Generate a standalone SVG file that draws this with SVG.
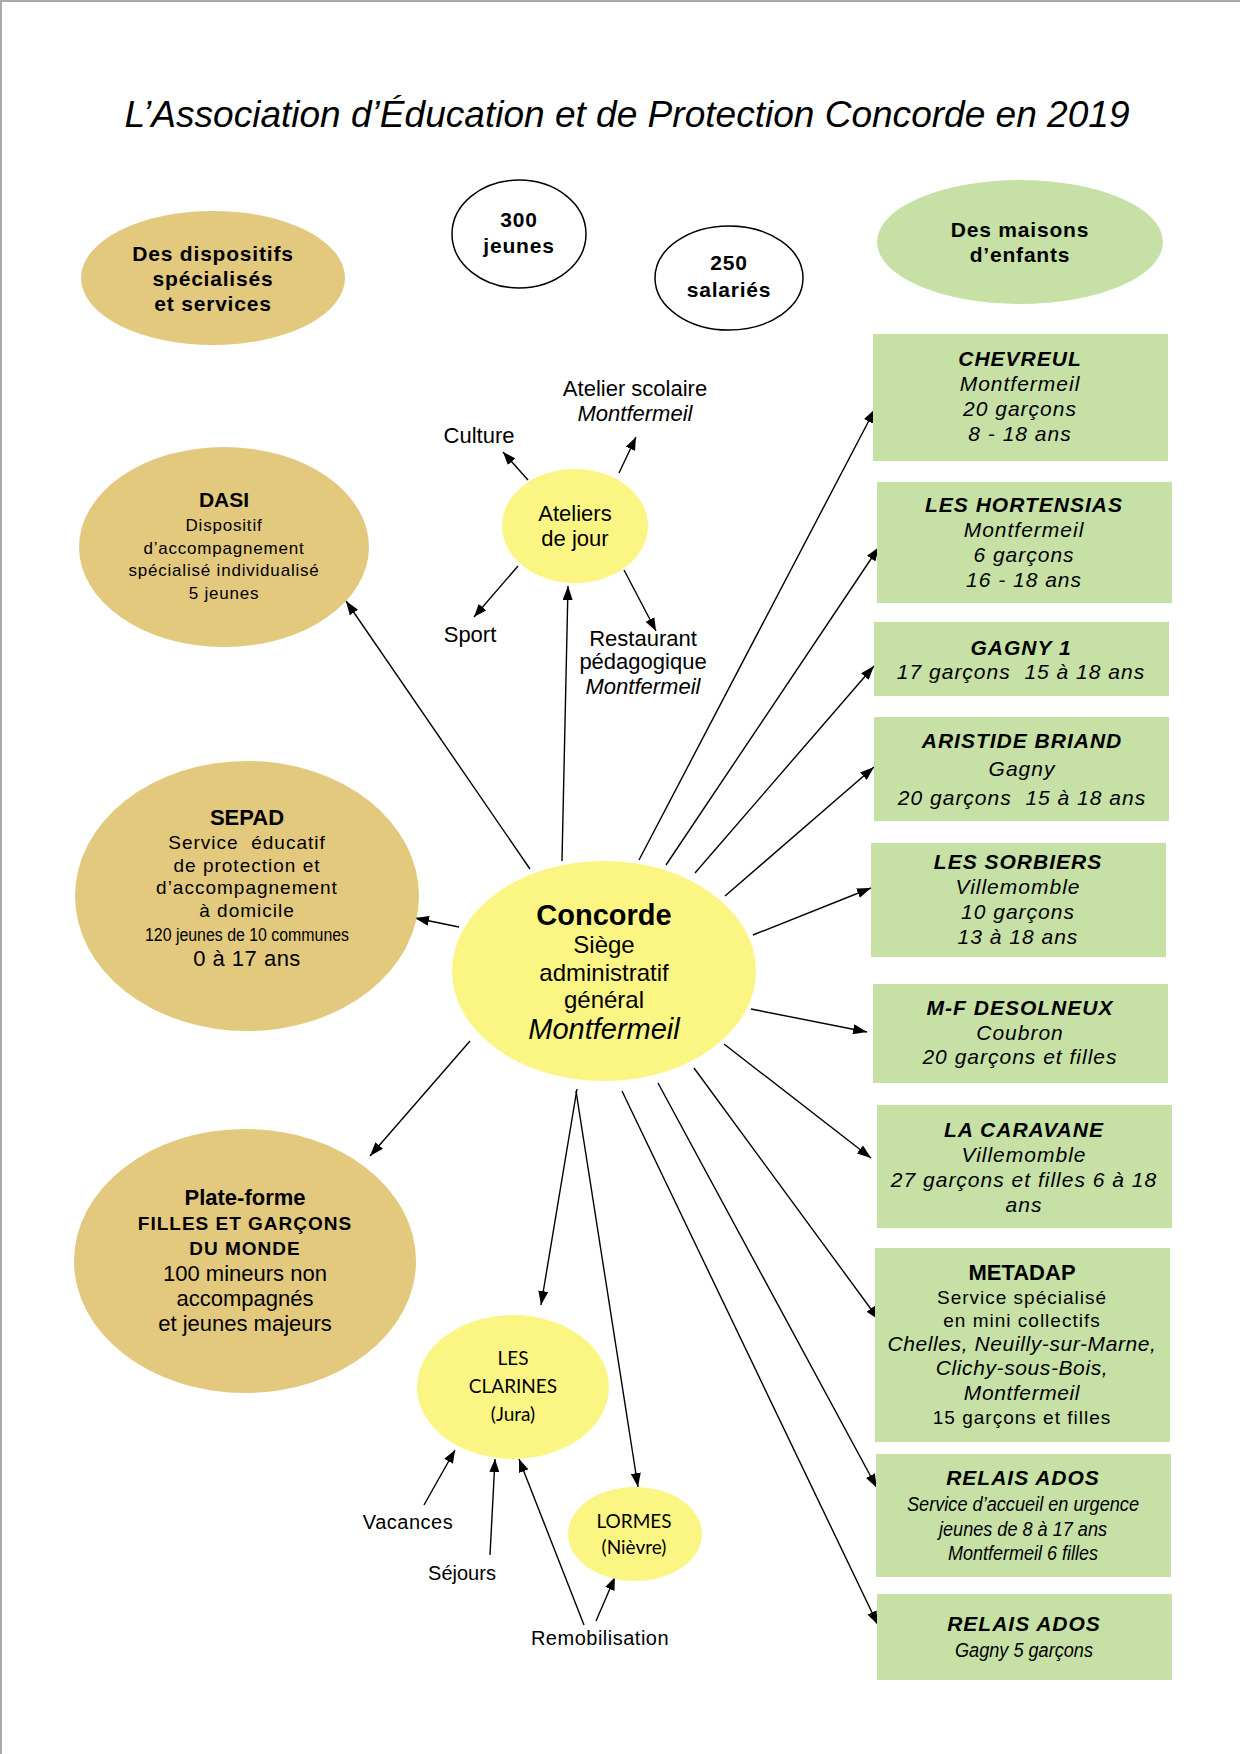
<svg xmlns="http://www.w3.org/2000/svg" width="1240" height="1754" viewBox="0 0 1240 1754">
<style>
text{font-family:"Liberation Sans",Arial,sans-serif;fill:#000;text-anchor:middle}
.tan{fill:#E2C97E}
.yel{fill:#FBF683}
.grn{fill:#C6E0A6}
.wht{fill:#fff;stroke:#000;stroke-width:1.5}
.hd{font-weight:bold;font-size:21px;letter-spacing:0.8px}
.lbl{font-size:22px}
.bx{font-size:21px;font-style:italic;letter-spacing:1px}
.bxb{font-size:21px;font-style:italic;font-weight:bold;letter-spacing:1px}
.cal{font-family:Lato,"Noto Sans",sans-serif;font-size:19px}
.con line{stroke:#000;stroke-width:1.4;marker-end:url(#ah)}
.con .s{marker-end:url(#ahs)}
</style>
<defs>
<marker id="ah" viewBox="0 0 14 10" refX="14" refY="5" markerWidth="14" markerHeight="10" markerUnits="userSpaceOnUse" orient="auto"><path d="M0,0 L14,5 L0,10 z" fill="#000"/></marker>
<marker id="ahs" viewBox="0 0 13 10" refX="13" refY="5" markerWidth="13" markerHeight="10" markerUnits="userSpaceOnUse" orient="auto"><path d="M0,0 L13,5 L0,10 z" fill="#000"/></marker>
</defs>
<rect x="0" y="0" width="1240" height="1754" fill="#fff"/>
<path d="M1,1754 V1 H1240" fill="none" stroke="#aaa" stroke-width="2"/>

<text id="title" x="627" y="127" font-size="36" font-style="italic" textLength="1005" lengthAdjust="spacingAndGlyphs">L’Association d’Éducation et de Protection Concorde en 2019</text>

<g id="n-dispositifs"><ellipse class="tan" cx="213" cy="278" rx="132" ry="67"/>
<text class="hd" x="213" y="261">Des dispositifs</text><text class="hd" x="213" y="286">spécialisés</text><text class="hd" x="213" y="311">et services</text></g>

<g id="n-300"><ellipse class="wht" cx="519" cy="234" rx="67" ry="54"/>
<text class="hd" x="519" y="227">300</text><text class="hd" x="519" y="253">jeunes</text></g>

<g id="n-250"><ellipse class="wht" cx="729" cy="278" rx="74" ry="52"/>
<text class="hd" x="729" y="270">250</text><text class="hd" x="729" y="297">salariés</text></g>

<g id="n-maisons"><ellipse class="grn" cx="1020" cy="242" rx="143" ry="62"/>
<text class="hd" x="1020" y="237">Des maisons</text><text class="hd" x="1020" y="262">d’enfants</text></g>

<g id="connectors" class="con">
<line x1="530" y1="869" x2="346" y2="601"/>
<line x1="562" y1="861" x2="568" y2="586"/>
<line x1="459" y1="927" x2="415" y2="918"/>
<line x1="470" y1="1041" x2="370" y2="1156"/>
<line x1="577" y1="1089" x2="541" y2="1305"/>
<line x1="576" y1="1091" x2="638" y2="1487"/>
<line x1="639" y1="860" x2="875" y2="409"/>
<line x1="666" y1="865" x2="879" y2="547"/>
<line x1="695" y1="873" x2="874" y2="666"/>
<line x1="725" y1="896" x2="874" y2="767"/>
<line x1="753" y1="935" x2="871" y2="888"/>
<line x1="751" y1="1009" x2="867" y2="1032"/>
<line x1="724" y1="1044" x2="871" y2="1158"/>
<line x1="694" y1="1068" x2="879" y2="1320"/>
<line x1="658" y1="1083" x2="877" y2="1488"/>
<line x1="622" y1="1091" x2="878" y2="1625"/>
<line class="s" x1="528" y1="480" x2="503" y2="452"/>
<line class="s" x1="619" y1="473" x2="636" y2="437"/>
<line class="s" x1="518" y1="566" x2="474" y2="617"/>
<line class="s" x1="624" y1="570" x2="656" y2="631"/>
<line class="s" x1="424" y1="1505" x2="455" y2="1450"/>
<line class="s" x1="490" y1="1555" x2="495" y2="1459"/>
<line class="s" x1="584" y1="1625" x2="519" y2="1459"/>
<line class="s" x1="596" y1="1621" x2="615" y2="1577"/>
</g>

<g id="n-ateliers"><ellipse class="yel" cx="575" cy="526" rx="73" ry="57"/>
<text class="lbl" x="575" y="521">Ateliers</text><text class="lbl" x="575" y="546">de jour</text></g>
<g id="l-atelier-scolaire"><text class="lbl" x="635" y="396">Atelier scolaire</text><text class="lbl" x="635" y="421" font-style="italic">Montfermeil</text></g>
<g id="l-culture"><text class="lbl" x="479" y="443">Culture</text></g>
<g id="l-sport"><text class="lbl" x="470" y="642">Sport</text></g>
<g id="l-restaurant"><text class="lbl" x="643" y="646">Restaurant</text><text class="lbl" x="643" y="669">pédagogique</text><text class="lbl" x="643" y="694" font-style="italic">Montfermeil</text></g>

<g id="n-dasi"><ellipse class="tan" cx="224" cy="547" rx="145" ry="100"/>
<text x="224" y="507" font-size="21" font-weight="bold">DASI</text>
<g font-size="17" letter-spacing="0.8"><text x="224" y="531">Dispositif</text><text x="224" y="554">d’accompagnement</text><text x="224" y="576">spécialisé individualisé</text><text x="224" y="599">5 jeunes</text></g></g>

<g id="n-sepad"><ellipse class="tan" cx="247" cy="896" rx="172" ry="135"/>
<text x="247" y="825" font-size="22" font-weight="bold">SEPAD</text>
<g font-size="19" letter-spacing="1"><text x="247" y="849" xml:space="preserve">Service  éducatif</text><text x="247" y="872">de protection et</text><text x="247" y="894">d’accompagnement</text><text x="247" y="917">à domicile</text></g>
<text x="247" y="941" font-size="18" textLength="204" lengthAdjust="spacingAndGlyphs">120 jeunes de 10 communes</text>
<text x="247" y="966" font-size="22" letter-spacing="0.5">0 à 17 ans</text></g>

<g id="n-plateforme"><ellipse class="tan" cx="245" cy="1261" rx="171" ry="132"/>
<text x="245" y="1205" font-size="22" font-weight="bold">Plate-forme</text>
<g font-size="19" font-weight="bold" letter-spacing="1"><text x="245" y="1230">FILLES ET GARÇONS</text><text x="245" y="1255">DU MONDE</text></g>
<g font-size="22"><text x="245" y="1281">100 mineurs non</text><text x="245" y="1306">accompagnés</text><text x="245" y="1331">et jeunes majeurs</text></g></g>

<g id="n-concorde"><ellipse class="yel" cx="604" cy="971" rx="152" ry="110"/>
<text x="604" y="925" font-size="29" font-weight="bold">Concorde</text>
<g font-size="24"><text x="604" y="953">Siège</text><text x="604" y="981">administratif</text><text x="604" y="1008">général</text></g>
<text x="604" y="1039" font-size="29" font-style="italic">Montfermeil</text></g>

<g id="n-clarines"><ellipse class="yel" cx="513" cy="1387" rx="96" ry="72"/>
<text class="cal" x="513" y="1365">LES</text><text class="cal" x="513" y="1393">CLARINES</text><text class="cal" x="513" y="1421">(Jura)</text></g>

<g id="n-lormes"><ellipse class="yel" cx="635" cy="1534" rx="67" ry="47"/>
<text class="cal" x="634" y="1528" font-size="17">LORMES</text><text class="cal" x="634" y="1554" font-size="17">(Nièvre)</text></g>

<g id="l-vacances"><text x="408" y="1529" font-size="20" letter-spacing="0.5">Vacances</text></g>
<g id="l-sejours"><text x="462" y="1580" font-size="20">Séjours</text></g>
<g id="l-remob"><text x="600" y="1645" font-size="20" letter-spacing="0.5">Remobilisation</text></g>

<g id="n-chevreul"><rect class="grn" x="873" y="334" width="295" height="127"/>
<text class="bxb" x="1020" y="366">CHEVREUL</text><text class="bx" x="1020" y="391">Montfermeil</text><text class="bx" x="1020" y="416">20 garçons</text><text class="bx" x="1020" y="441">8 - 18 ans</text></g>

<g id="n-hortensias"><rect class="grn" x="877" y="482" width="295" height="121"/>
<text class="bxb" x="1024" y="512">LES HORTENSIAS</text><text class="bx" x="1024" y="537">Montfermeil</text><text class="bx" x="1024" y="562">6 garçons</text><text class="bx" x="1024" y="587">16 - 18 ans</text></g>

<g id="n-gagny1"><rect class="grn" x="874" y="622" width="295" height="74"/>
<text class="bxb" x="1021" y="655">GAGNY 1</text><text class="bx" x="1021" y="679" xml:space="preserve">17 garçons  15 à 18 ans</text></g>

<g id="n-aristide"><rect class="grn" x="874" y="717" width="295" height="104"/>
<text class="bxb" x="1022" y="748">ARISTIDE BRIAND</text><text class="bx" x="1022" y="776">Gagny</text><text class="bx" x="1022" y="805" xml:space="preserve">20 garçons  15 à 18 ans</text></g>

<g id="n-sorbiers"><rect class="grn" x="871" y="843" width="295" height="114"/>
<text class="bxb" x="1018" y="869">LES SORBIERS</text><text class="bx" x="1018" y="894">Villemomble</text><text class="bx" x="1018" y="919">10 garçons</text><text class="bx" x="1018" y="944">13 à 18 ans</text></g>

<g id="n-desolneux"><rect class="grn" x="873" y="984" width="295" height="99"/>
<text class="bxb" x="1020" y="1015">M-F DESOLNEUX</text><text class="bx" x="1020" y="1040">Coubron</text><text class="bx" x="1020" y="1064">20 garçons et filles</text></g>

<g id="n-caravane"><rect class="grn" x="877" y="1105" width="295" height="123"/>
<text class="bxb" x="1024" y="1137">LA CARAVANE</text><text class="bx" x="1024" y="1162">Villemomble</text><text class="bx" x="1024" y="1187">27 garçons et filles 6 à 18</text><text class="bx" x="1024" y="1212">ans</text></g>

<g id="n-metadap"><rect class="grn" x="875" y="1248" width="295" height="194"/>
<text x="1022" y="1280" font-size="22" font-weight="bold">METADAP</text>
<g font-size="19" letter-spacing="1"><text x="1022" y="1304">Service spécialisé</text><text x="1022" y="1327">en mini collectifs</text></g>
<g font-size="21" font-style="italic" letter-spacing="0.6"><text x="1022" y="1351">Chelles, Neuilly-sur-Marne,</text><text x="1022" y="1375">Clichy-sous-Bois,</text><text x="1022" y="1400">Montfermeil</text></g>
<text x="1022" y="1424" font-size="19" letter-spacing="1">15 garçons et filles</text></g>

<g id="n-relais1"><rect class="grn" x="876" y="1454" width="295" height="123"/>
<text class="bxb" x="1023" y="1485" font-size="22">RELAIS ADOS</text>
<g font-size="20" font-style="italic"><text x="1023" y="1511" textLength="232" lengthAdjust="spacingAndGlyphs">Service d’accueil en urgence</text><text x="1023" y="1536" textLength="168" lengthAdjust="spacingAndGlyphs">jeunes de 8 à 17 ans</text><text x="1023" y="1560" textLength="150" lengthAdjust="spacingAndGlyphs">Montfermeil 6 filles</text></g></g>

<g id="n-relais2"><rect class="grn" x="877" y="1594" width="295" height="86"/>
<text class="bxb" x="1024" y="1631" font-size="22">RELAIS ADOS</text>
<text x="1024" y="1657" font-size="20" font-style="italic" textLength="138" lengthAdjust="spacingAndGlyphs">Gagny 5 garçons</text></g>
</svg>
